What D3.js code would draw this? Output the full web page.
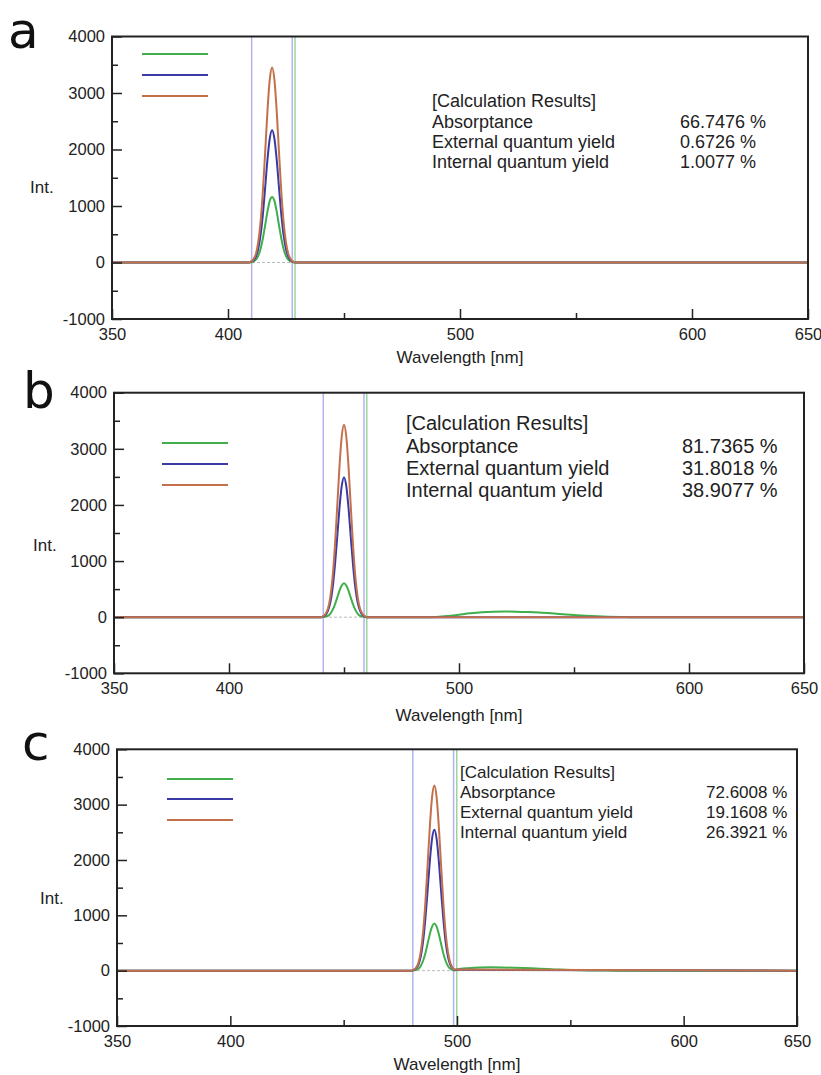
<!DOCTYPE html>
<html>
<head>
<meta charset="utf-8">
<script src="https://cdn.jsdelivr.net/npm/d3@7"></script>
<style>
  body { margin: 0; background: #fff; }
  svg text { font-family: Arial, "Liberation Sans", sans-serif; fill: #222; }
  .letter { font-family: "DejaVu Sans", sans-serif; font-size: 50px; fill: #111; }
</style>
</head>
<body>
<svg id="chart" width="821" height="1075"></svg>
<script>
// Tick values shared by all three panels
const xMajorTicks = [350, 400, 500, 600, 650];
const xMinorTicks = [450, 550];
const yMajorTicks = [-1000, 0, 1000, 2000, 3000, 4000];
const yMinorTicks = [-500, 500, 1500, 2500, 3500];

const resultLabels = ['[Calculation Results]', 'Absorptance', 'External quantum yield', 'Internal quantum yield'];

// Panel a: peak near 419 nm
const peakWlA = [350, 409, 410, 411, 412, 413, 414, 415, 416, 417, 418, 419, 420, 421, 422, 423, 424, 425, 426, 427, 428, 429, 650];
const greenA  = [0, 0, 5, 20, 50, 115, 235, 420, 655, 900, 1090, 1160, 1090, 900, 655, 420, 235, 115, 50, 20, 5, 0, 0];
const blueA   = [0, 0, 15, 40, 105, 235, 475, 840, 1315, 1815, 2195, 2340, 2195, 1815, 1315, 840, 475, 235, 105, 40, 15, 0, 0];
const orangeA = [0, 0, 20, 60, 150, 350, 700, 1240, 1940, 2675, 3235, 3450, 3235, 2675, 1940, 1240, 700, 350, 150, 60, 20, 0, 0];
const markersA = { blue: [410.2, 427.7], green: [428.9] };
const valuesA = ['66.7476 %', '0.6726 %', '1.0077 %'];

// Panel b: peak near 450 nm, weak emission band around 520 nm
const peakWlB = [350, 440, 441, 442, 443, 444, 445, 446, 447, 448, 449, 450, 451, 452, 453, 454, 455, 456, 457, 458, 459, 460, 650];
const greenB  = [0, 0, 5, 10, 25, 60, 125, 220, 340, 470, 565, 605, 565, 470, 340, 220, 125, 60, 25, 10, 5, 0, 0];
const blueB   = [0, 0, 15, 40, 110, 250, 505, 895, 1400, 1930, 2335, 2490, 2335, 1930, 1400, 895, 505, 250, 110, 40, 15, 0, 0];
const orangeB = [0, 0, 20, 60, 150, 345, 695, 1235, 1930, 2660, 3215, 3430, 3215, 2660, 1930, 1235, 695, 345, 150, 60, 20, 0, 0];
const bumpWlB = [485, 490, 495, 500, 505, 510, 515, 520, 525, 530, 535, 540, 545, 550, 555, 560, 565, 570, 575];
const bumpB   = [0, 5, 20, 45, 70, 88, 97, 100, 98, 92, 82, 68, 52, 38, 25, 15, 8, 4, 0];
const markersB = { blue: [441, 458.7], green: [459.9] };
const valuesB = ['81.7365 %', '31.8018 %', '38.9077 %'];

// Panel c: peak near 490 nm, weak emission tail after 500 nm
const peakWlC = [350, 480, 481, 482, 483, 484, 485, 486, 487, 488, 489, 490, 491, 492, 493, 494, 495, 496, 497, 498, 499, 650];
const greenC  = [0, 0, 5, 15, 35, 85, 175, 305, 480, 660, 795, 850, 795, 660, 480, 305, 175, 85, 35, 15, 5, 0];
const blueC   = [0, 0, 15, 45, 110, 255, 515, 915, 1430, 1970, 2385, 2545, 2385, 1970, 1430, 915, 515, 255, 110, 45, 15, 0];
const orangeC = [0, 0, 20, 55, 145, 340, 680, 1205, 1885, 2590, 3135, 3345, 3135, 2590, 1885, 1205, 680, 340, 145, 55, 20, 0];
const bumpWlC = [500, 505, 510, 515, 520, 525, 530, 535, 540, 545, 550, 555, 560, 565, 570];
const bumpC   = [20, 45, 57, 60, 58, 53, 46, 37, 28, 20, 13, 8, 4, 2, 0];
const markersC = { blue: [480.5, 498.5], green: [499.9] };
const valuesC = ['72.6008 %', '19.1608 %', '26.3921 %'];

const colors = { green: '#3fae4b', blue: '#3a3aa6', orange: '#c3714b', markBlue: '#b3b3f0', markGreen: '#9bd69b' };

// zip two arrays into [x, y] pairs
function pairs(xs, ys) {
    return xs.map((x, i) => [x, ys[i]]);
}

// plain integer labels with an ascii hyphen for negatives
const intLabel = d => String(d);

// Layout of each panel (pixel boxes)
const panels = [
    {
        letter: 'a', letterX: 8, letterY: 48,
        left: 112, right: 808, top: 36.5, bottom: 319,
        green: pairs(peakWlA, greenA), blue: pairs(peakWlA, blueA), orange: pairs(peakWlA, orangeA),
        markers: markersA, values: valuesA,
        legendX: [142, 208], legendY: [54, 75, 96],
        textX: 432, valueX: 680, textY: [107, 128, 148, 168], labelSize: 18, valueSize: 18,
        intX: 30, intY: 193, xLabelY: 363
    },
    {
        letter: 'b', letterX: 23, letterY: 408,
        left: 114, right: 804, top: 392.7, bottom: 673.3,
        green: pairs(peakWlB, greenB).filter(d => d[0] < 650).concat(pairs(bumpWlB, bumpB), [[650, 0]]),
        blue: pairs(peakWlB, blueB), orange: pairs(peakWlB, orangeB),
        markers: markersB, values: valuesB,
        legendX: [162, 228], legendY: [443, 464, 485],
        textX: 406, valueX: 682, textY: [430, 453, 475, 497], labelSize: 20, valueSize: 20,
        intX: 33, intY: 551, xLabelY: 721
    },
    {
        letter: 'c', letterX: 22, letterY: 760,
        left: 117, right: 797, top: 749.3, bottom: 1026,
        green: pairs(peakWlC, greenC).filter(d => d[0] < 650).concat(pairs(bumpWlC, bumpC), [[650, 0]]),
        blue: pairs(peakWlC, blueC), orange: pairs(peakWlC, orangeC),
        markers: markersC, values: valuesC,
        legendX: [167, 233], legendY: [779, 799, 820],
        textX: 460, valueX: 706, textY: [778, 798, 818, 838], labelSize: 17, valueSize: 17,
        intX: 40, intY: 904, xLabelY: 1070
    }
];

const svg = d3.select('#chart');

panels.forEach(p => {
    const g = svg.append('g');

    const x = d3.scaleLinear().domain([350, 650]).range([p.left, p.right]);
    const y = d3.scaleLinear().domain([-1000, 4000]).range([p.bottom, p.top]);

    // panel letter
    g.append('text').attr('class', 'letter')
        .attr('x', p.letterX).attr('y', p.letterY).text(p.letter);

    // marker lines (excitation window)
    p.markers.blue.forEach(w => {
        g.append('line')
            .attr('x1', x(w)).attr('x2', x(w)).attr('y1', p.top).attr('y2', p.bottom)
            .attr('stroke', colors.markBlue).attr('stroke-width', 1.5);
    });
    p.markers.green.forEach(w => {
        g.append('line')
            .attr('x1', x(w)).attr('x2', x(w)).attr('y1', p.top).attr('y2', p.bottom)
            .attr('stroke', colors.markGreen).attr('stroke-width', 1.5);
    });

    // dotted zero baseline
    g.append('line')
        .attr('x1', p.left).attr('x2', p.right).attr('y1', y(0)).attr('y2', y(0))
        .attr('stroke', '#bbb').attr('stroke-width', 1).attr('stroke-dasharray', '3,2');

    const line = d3.line()
        .x(d => x(d[0]))
        .y(d => y(d[1]))
        .curve(d3.curveMonotoneX);

    // spectra: green, blue, then orange on top
    [['green', p.green], ['blue', p.blue], ['orange', p.orange]].forEach(([key, data]) => {
        g.append('path')
            .datum(data)
            .attr('fill', 'none')
            .attr('stroke', colors[key])
            .attr('stroke-width', 2)
            .attr('d', line);
    });

    // legend swatches (no labels in the original)
    ['green', 'blue', 'orange'].forEach((key, i) => {
        g.append('line')
            .attr('x1', p.legendX[0]).attr('x2', p.legendX[1])
            .attr('y1', p.legendY[i]).attr('y2', p.legendY[i])
            .attr('stroke', colors[key]).attr('stroke-width', 2);
    });

    // axes with inward ticks
    const xAxis = d3.axisBottom(x).tickValues(xMajorTicks).tickSizeInner(-10).tickSizeOuter(0).tickPadding(9)
        .tickFormat(intLabel);
    const xMinor = d3.axisBottom(x).tickValues(xMinorTicks).tickSizeInner(-6).tickSizeOuter(0).tickFormat('');
    const yAxis = d3.axisLeft(y).tickValues(yMajorTicks).tickSizeInner(-10).tickSizeOuter(0).tickPadding(7)
        .tickFormat(intLabel);
    const yMinor = d3.axisLeft(y).tickValues(yMinorTicks).tickSizeInner(-6).tickSizeOuter(0).tickFormat('');

    [
        [xAxis, `translate(0,${p.bottom})`],
        [xMinor, `translate(0,${p.bottom})`],
        [yAxis, `translate(${p.left},0)`],
        [yMinor, `translate(${p.left},0)`]
    ].forEach(([ax, tr]) => {
        const a = g.append('g').attr('transform', tr).call(ax);
        a.select('.domain').remove();
        a.selectAll('line').attr('stroke', '#222').attr('stroke-width', 1.5);
        a.selectAll('text').attr('font-size', 16.5).attr('fill', '#222')
            .style('font-family', 'Arial, "Liberation Sans", sans-serif');
    });

    // frame
    g.append('rect')
        .attr('x', p.left).attr('y', p.top)
        .attr('width', p.right - p.left).attr('height', p.bottom - p.top)
        .attr('fill', 'none').attr('stroke', '#222').attr('stroke-width', 2);

    // axis titles
    g.append('text').attr('x', (p.left + p.right) / 2).attr('y', p.xLabelY)
        .attr('text-anchor', 'middle').attr('font-size', 17).text('Wavelength [nm]');
    g.append('text').attr('x', p.intX).attr('y', p.intY)
        .attr('font-size', 17).text('Int.');

    // calculation results block
    resultLabels.forEach((t, i) => {
        g.append('text').attr('x', p.textX).attr('y', p.textY[i])
            .attr('font-size', p.labelSize).text(t);
    });
    p.values.forEach((v, i) => {
        g.append('text').attr('x', p.valueX).attr('y', p.textY[i + 1])
            .attr('font-size', p.valueSize).text(v);
    });
});
</script>
</body>
</html>
